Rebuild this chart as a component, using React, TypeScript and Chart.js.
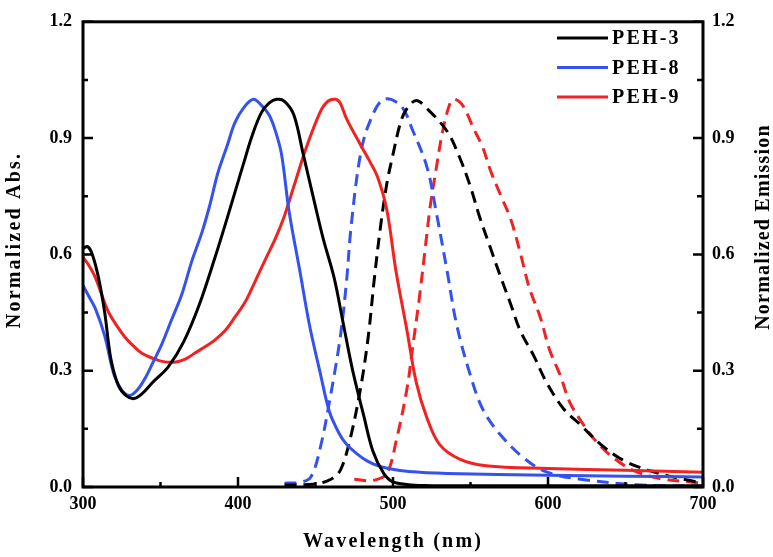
import React, { useEffect, useRef } from "react";
import { Chart, registerables } from "chart.js";

Chart.register(...registerables);

// ---- Data ----
const SERIES_NAMES = ["PEH-3", "PEH-8", "PEH-9"];
const SERIES_COLORS = ["#000000", "#3352ee", "#f02222"];

const X_TITLE = "Wavelength (nm)";
const Y_LEFT_TITLE = "Normalized Abs.";
const Y_RIGHT_TITLE = "Normalized Emission";

const X_MIN = 300;
const X_MAX = 700;
const X_STEP = 100;
const Y_MIN = 0;
const Y_MAX = 1.2;
const Y_STEP = 0.3;

// Absorption PEH-3
const ABS3_WL = [300, 303, 306, 310, 314, 318, 323, 328, 333, 338, 345, 355, 365, 375, 385, 392, 398, 404, 409, 415, 420, 425, 430, 436, 442, 449, 455, 462, 468, 474, 481, 487, 494, 500, 510, 520, 550, 600, 650, 700];
const ABS3_V = [0.615, 0.62, 0.6, 0.54, 0.45, 0.33, 0.26, 0.235, 0.228, 0.24, 0.27, 0.31, 0.375, 0.47, 0.59, 0.68, 0.76, 0.84, 0.905, 0.965, 0.99, 1.0, 0.995, 0.96, 0.86, 0.74, 0.64, 0.54, 0.42, 0.3, 0.186, 0.093, 0.035, 0.013, 0.006, 0.004, 0.003, 0.003, 0.003, 0.003];

// Absorption PEH-8
const ABS8_WL = [300, 304, 308, 314, 320, 325, 330, 335, 340, 345, 351, 357, 364, 370, 377, 382, 387, 393, 398, 404, 410, 415, 420, 424, 428, 433, 440, 446, 453, 459, 465, 470, 477, 483, 490, 498, 510, 535, 600, 650, 700];
const ABS8_V = [0.52, 0.49, 0.46, 0.39, 0.29, 0.25, 0.236, 0.25, 0.28, 0.32, 0.37, 0.43, 0.5, 0.58, 0.66, 0.73, 0.81, 0.88, 0.94, 0.98, 1.0, 0.985, 0.96, 0.92, 0.86, 0.71, 0.555, 0.42, 0.295, 0.194, 0.14, 0.11, 0.085, 0.068, 0.055, 0.047, 0.04, 0.035, 0.03, 0.028, 0.026];

// Absorption PEH-9
const ABS9_WL = [300, 304, 308, 316, 322, 327, 333, 338, 345, 351, 359, 366, 372, 380, 385, 392, 398, 405, 411, 418, 424, 430, 436, 444, 453, 458, 463, 466, 470, 479, 485, 490, 496, 502, 509, 515, 522, 530, 543, 560, 600, 650, 700];
const ABS9_V = [0.593, 0.57, 0.54, 0.455, 0.415, 0.387, 0.362, 0.345, 0.332, 0.324, 0.322, 0.33, 0.345, 0.365, 0.379, 0.405, 0.438, 0.48, 0.53, 0.59, 0.64, 0.7, 0.775, 0.875, 0.967, 0.995, 1.0, 0.99, 0.95, 0.883, 0.84, 0.8, 0.715, 0.555, 0.404, 0.27, 0.177, 0.11, 0.072, 0.055, 0.048, 0.043, 0.038];

// Emission PEH-3
const EM3_WL = [430, 450, 460, 466, 472, 479, 484, 488, 492, 496, 500, 505, 509, 515, 522, 535, 543, 550, 556, 563, 569, 576, 582, 591, 599, 610, 621, 634, 649, 668, 690, 700];
const EM3_V = [0.005, 0.008, 0.02, 0.043, 0.118, 0.253, 0.387, 0.539, 0.673, 0.782, 0.858, 0.942, 0.976, 0.997, 0.976, 0.917, 0.85, 0.774, 0.695, 0.615, 0.547, 0.471, 0.404, 0.337, 0.27, 0.202, 0.16, 0.11, 0.068, 0.039, 0.018, 0.01];

// Emission PEH-8
const EM8_WL = [430, 440, 447, 453, 459, 466, 470, 473, 479, 485, 494, 505, 513, 522, 528, 535, 541, 550, 558, 569, 584, 599, 621, 660, 700];
const EM8_V = [0.01, 0.012, 0.026, 0.1, 0.22, 0.387, 0.53, 0.673, 0.858, 0.942, 1.0, 0.984, 0.917, 0.824, 0.707, 0.555, 0.42, 0.287, 0.2, 0.136, 0.076, 0.039, 0.02, 0.005, 0.002];

// Emission PEH-9
const EM9_WL = [475, 487, 496, 502, 509, 513, 517, 521, 524, 528, 532, 537, 540, 545, 552, 558, 563, 569, 576, 582, 588, 595, 601, 608, 614, 623, 631, 642, 655, 672, 700];
const EM9_V = [0.02, 0.017, 0.035, 0.118, 0.253, 0.37, 0.488, 0.623, 0.724, 0.824, 0.917, 0.992, 1.0, 0.984, 0.925, 0.875, 0.815, 0.757, 0.69, 0.606, 0.513, 0.438, 0.354, 0.287, 0.219, 0.16, 0.118, 0.076, 0.043, 0.022, 0.01];

const ABS_SERIES = [
  [ABS3_WL, ABS3_V],
  [ABS8_WL, ABS8_V],
  [ABS9_WL, ABS9_V],
];
const EM_SERIES = [
  [EM3_WL, EM3_V],
  [EM8_WL, EM8_V],
  [EM9_WL, EM9_V],
];

const FONT_FAMILY = "'Liberation Serif', 'Times New Roman', serif";

function toPoints(xs: number[], ys: number[]) {
  return xs.map((x, i) => ({ x, y: ys[i] }));
}

const framePlugin = {
  id: "frameTicks",
  afterDraw(chart: any) {
    const { ctx, chartArea: a, scales } = chart;
    ctx.save();
    ctx.strokeStyle = "#000";
    ctx.lineCap = "butt";
    ctx.lineWidth = 2.5;
    // x ticks (bottom, inward)
    const xs = scales.x;
    const xv = xs.ticks.map((t: any) => t.value);
    ctx.beginPath();
    for (let i = 0; i < xv.length; i++) {
      const px = xs.getPixelForValue(xv[i]);
      ctx.moveTo(px, a.bottom);
      ctx.lineTo(px, a.bottom - 10);
      if (i < xv.length - 1) {
        const mx = xs.getPixelForValue((xv[i] + xv[i + 1]) / 2);
        ctx.moveTo(mx, a.bottom);
        ctx.lineTo(mx, a.bottom - 5);
      }
    }
    // y ticks left & right
    const ys = scales.y;
    const yv = ys.ticks.map((t: any) => t.value);
    for (let i = 0; i < yv.length; i++) {
      const py = ys.getPixelForValue(yv[i]);
      ctx.moveTo(a.left, py);
      ctx.lineTo(a.left + 10, py);
      ctx.moveTo(a.right, py);
      ctx.lineTo(a.right - 10, py);
      if (i < yv.length - 1) {
        const my = ys.getPixelForValue((yv[i] + yv[i + 1]) / 2);
        ctx.moveTo(a.left, my);
        ctx.lineTo(a.left + 5, my);
        ctx.moveTo(a.right, my);
        ctx.lineTo(a.right - 6, my);
      }
    }
    ctx.stroke();
    // frame
    ctx.lineWidth = 3;
    ctx.strokeRect(a.left, a.top, a.right - a.left, a.bottom - a.top);

    // axis titles
    ctx.fillStyle = "#000";
    ctx.font = `bold 20px ${FONT_FAMILY}`;
    ctx.textBaseline = "alphabetic";
    ctx.textAlign = "center";
    (ctx as any).letterSpacing = "2.2px";
    ctx.fillText(X_TITLE, (a.left + a.right) / 2, 547);

    ctx.save();
    ctx.translate(20, 240);
    ctx.rotate(-Math.PI / 2);
    ctx.fillText(Y_LEFT_TITLE, 0, 0);
    ctx.restore();

    ctx.save();
    (ctx as any).letterSpacing = "1.2px";
    ctx.translate(769, 227);
    ctx.rotate(-Math.PI / 2);
    ctx.fillText(Y_RIGHT_TITLE, 0, 0);
    ctx.restore();

    // legend
    (ctx as any).letterSpacing = "2.2px";
    ctx.textAlign = "left";
    ctx.textBaseline = "middle";
    ctx.lineWidth = 3;
    for (let i = 0; i < SERIES_NAMES.length; i++) {
      const ly = 38 + i * 29.5;
      ctx.strokeStyle = SERIES_COLORS[i];
      ctx.beginPath();
      ctx.moveTo(557, ly);
      ctx.lineTo(608, ly);
      ctx.stroke();
      ctx.fillText(SERIES_NAMES[i], 612, ly + 1);
    }
    ctx.restore();
  },
};

export default function App() {
  const canvasRef = useRef<HTMLCanvasElement | null>(null);

  useEffect(() => {
    document.body.style.margin = "0";
    const canvas = canvasRef.current;
    if (!canvas) return;

    const datasets: any[] = [];
    ABS_SERIES.forEach(([wl, v], i) => {
      datasets.push({
        label: SERIES_NAMES[i],
        data: toPoints(wl, v),
        borderColor: SERIES_COLORS[i],
        borderWidth: 3,
        pointRadius: 0,
        fill: false,
        tension: 0.35,
        yAxisID: "y",
      });
    });
    EM_SERIES.forEach(([wl, v], i) => {
      datasets.push({
        label: SERIES_NAMES[i] + " emission",
        data: toPoints(wl, v),
        borderColor: SERIES_COLORS[i],
        borderWidth: 3,
        borderDash: [12, 7],
        pointRadius: 0,
        fill: false,
        tension: 0.35,
        yAxisID: "y2",
      });
    });

    const tickFont = { family: FONT_FAMILY, size: 18, weight: "bold" as const };

    const chart = new Chart(canvas, {
      type: "line",
      data: { datasets },
      options: {
        animation: false,
        responsive: false,
        maintainAspectRatio: false,
        layout: { padding: { top: 11, left: 0, right: 0, bottom: 0 } },
        plugins: {
          legend: { display: false },
          tooltip: { enabled: false },
        },
        scales: {
          x: {
            type: "linear",
            min: X_MIN,
            max: X_MAX,
            grid: { display: false, drawTicks: false },
            border: { display: false },
            ticks: {
              stepSize: X_STEP,
              padding: 7,
              color: "#000",
              font: tickFont,
              maxRotation: 0,
            },
            afterFit: (s: any) => {
              s.height = 70;
            },
          },
          y: {
            type: "linear",
            position: "left",
            min: Y_MIN,
            max: Y_MAX,
            grid: { display: false, drawTicks: false },
            border: { display: false },
            ticks: {
              stepSize: Y_STEP,
              padding: 11,
              color: "#000",
              font: tickFont,
              callback: (v: any) => Number(v).toFixed(1),
            },
            afterFit: (s: any) => {
              s.width = 83;
            },
          },
          y2: {
            type: "linear",
            position: "right",
            min: Y_MIN,
            max: Y_MAX,
            grid: { display: false, drawTicks: false },
            border: { display: false },
            ticks: {
              stepSize: Y_STEP,
              padding: 9,
              color: "#000",
              font: tickFont,
              callback: (v: any) => Number(v).toFixed(1),
            },
            afterFit: (s: any) => {
              s.width = 70;
            },
          },
        },
      },
      plugins: [framePlugin],
    });

    return () => chart.destroy();
  }, []);

  return (
    <div style={{ width: 773, height: 557, position: "relative", background: "#fff" }}>
      <canvas ref={canvasRef} width={773} height={557} />
    </div>
  );
}
